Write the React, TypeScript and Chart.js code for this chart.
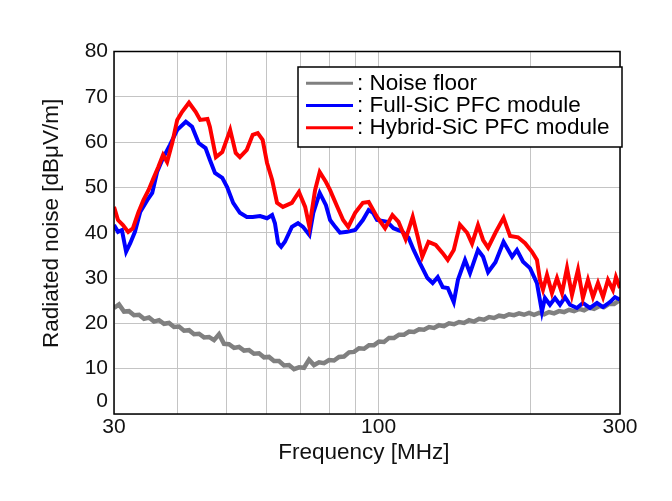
import { useEffect, useRef } from 'react';
import { Chart, registerables } from 'chart.js';

Chart.register(...registerables);

const FONT = "'Liberation Sans', Arial, sans-serif";

// frequency axis: grid lines and the three labelled ticks
const xGridValues = [30, 40, 50, 60, 70, 80, 90, 100, 200, 300];
const xLabelValues = [30, 100, 300];

// Noise floor [MHz] / [dBuV/m]
const noiseFreq = [
  30.0, 30.69, 31.4, 32.12, 32.86, 33.62, 34.39, 35.18, 35.99, 36.82,
  37.67, 38.54, 39.42, 40.33, 41.26, 42.21, 43.18, 44.17, 45.19, 46.23,
  47.29, 48.38, 49.49, 50.63, 51.8, 52.99, 54.21, 55.46, 56.73, 58.04,
  59.37, 60.74, 62.14, 63.57, 65.03, 66.53, 68.06, 69.63, 71.23, 72.87,
  74.55, 76.26, 78.02, 79.81, 81.65, 83.53, 85.45, 87.42, 89.43, 91.49,
  93.6, 95.75, 97.95, 100.21, 102.51, 104.87, 107.29, 109.76, 112.28, 114.87,
  117.51, 120.22, 122.98, 125.81, 128.71, 131.67, 134.7, 137.8, 140.98, 144.22,
  147.54, 150.94, 154.41, 157.97, 161.6, 165.32, 169.13, 173.02, 177.0, 181.08,
  185.25, 189.51, 193.87, 198.34, 202.9, 207.57, 212.35, 217.24, 222.24, 227.36,
  232.59, 237.95, 243.42, 249.03, 254.76, 260.62, 266.63, 272.76, 279.04, 285.47,
  292.04, 298.76,
];
const noiseLevel = [
  23.4, 24.2, 22.6, 22.7, 21.8, 21.9, 21.0, 21.3, 20.4, 20.7,
  19.9, 20.1, 19.2, 19.3, 18.4, 18.5, 17.6, 17.7, 16.9, 17.0,
  16.3, 17.6, 15.5, 15.4, 14.6, 14.8, 14.0, 14.1, 13.3, 13.4,
  12.5, 12.6, 11.7, 11.7, 10.7, 10.8, 9.9, 10.3, 10.2, 12.0,
  10.8, 11.4, 11.2, 11.9, 11.8, 12.6, 12.7, 13.6, 13.7, 14.5,
  14.4, 15.2, 15.2, 16.0, 15.9, 16.8, 16.8, 17.5, 17.5, 18.2,
  18.1, 18.7, 18.6, 19.2, 19.0, 19.6, 19.4, 20.0, 19.8, 20.3,
  20.1, 20.7, 20.4, 21.0, 20.8, 21.4, 21.2, 21.7, 21.5, 22.0,
  21.8, 22.2, 21.9, 22.3, 21.9, 22.3, 22.0, 22.5, 22.2, 22.7,
  22.5, 23.0, 22.7, 23.2, 22.9, 23.5, 23.2, 23.8, 23.6, 24.3,
  24.3, 25.0,
];

// Full-SiC PFC module
const fullFreq = [
  30.0, 30.55, 31.1, 31.7, 32.3, 33.0, 33.8, 34.9, 35.7, 36.5,
  37.5, 38.7, 40.0, 41.6, 42.8, 44.1, 45.5, 46.4, 47.5, 49.1,
  50.2, 51.6, 53.2, 54.9, 56.4, 58.3, 60.2, 61.6, 62.4, 63.3,
  64.2, 65.3, 67.4, 69.3, 70.9, 73.0, 74.3, 76.5, 78.7, 80.2,
  82.1, 83.9, 86.7, 89.9, 93.1, 95.6, 97.5, 99.3, 104.0, 107.0,
  111.6, 114.6, 117.3, 120.7, 124.9, 127.9, 130.9, 133.9, 137.0, 140.8,
  143.5, 148.2, 151.6, 157.2, 160.9, 164.6, 170.2, 176.6, 183.6, 187.7,
  193.0, 199.2, 205.6, 210.3, 213.2, 218.1, 223.2, 228.3, 233.6, 238.9,
  246.6, 253.4, 261.7, 270.2, 277.7, 286.6, 293.2, 300.0,
];
const fullLevel = [
  41.7, 40.2, 40.6, 35.8, 37.7, 40.2, 44.6, 47.2, 48.8, 53.4,
  56.5, 59.4, 62.7, 64.5, 63.4, 59.8, 58.7, 56.1, 53.2, 52.1,
  50.1, 46.6, 44.4, 43.5, 43.5, 43.7, 43.2, 43.9, 42.1, 37.7,
  36.9, 38.0, 41.3, 42.1, 41.3, 39.5, 44.4, 48.8, 46.1, 42.8,
  41.3, 40.0, 40.2, 40.6, 42.8, 45.0, 44.4, 42.8, 42.4, 41.0,
  40.2, 38.9, 36.2, 33.3, 30.0, 28.9, 30.2, 28.0, 27.8, 24.7,
  29.6, 34.0, 31.1, 36.2, 34.7, 31.3, 33.5, 38.0, 34.7, 36.2,
  33.6, 32.2, 28.9, 22.6, 25.6, 24.1, 25.6, 24.1, 25.8, 24.1,
  23.4, 24.5, 23.4, 24.5, 23.6, 24.7, 25.8, 25.2,
];

// Hybrid-SiC PFC module
const hybridFreq = [
  30.0, 30.55, 31.25, 32.0, 32.7, 33.5, 34.3, 35.1, 35.9, 36.7,
  37.5, 38.2, 39.1, 40.0, 40.9, 42.2, 43.5, 44.4, 45.9, 46.4,
  47.7, 49.1, 50.9, 52.2, 53.2, 54.9, 56.4, 57.7, 59.0, 60.2,
  61.6, 63.0, 64.7, 67.4, 69.6, 71.6, 73.0, 74.9, 76.5, 78.7,
  80.2, 82.9, 85.1, 87.1, 89.9, 93.1, 95.6, 99.3, 103.0, 106.5,
  109.5, 113.1, 116.8, 119.5, 122.0, 125.5, 129.7, 133.9, 137.0, 140.8,
  144.8, 149.6, 153.0, 157.2, 160.9, 164.6, 170.2, 176.6, 181.9, 188.6,
  194.8, 201.0, 205.6, 208.4, 211.3, 215.2, 220.1, 225.2, 230.4, 235.7,
  241.1, 247.8, 253.4, 259.3, 265.3, 271.4, 277.7, 284.0, 290.5, 294.5,
  300.0,
];
const hybridLevel = [
  45.7, 42.8, 41.7, 40.2, 41.0, 44.4, 47.2, 49.4, 52.0, 54.5,
  57.2, 55.6, 59.8, 64.9, 66.7, 68.7, 66.7, 64.9, 65.1, 63.4,
  56.7, 57.8, 62.7, 57.6, 56.7, 58.3, 61.6, 62.0, 60.5, 55.4,
  51.7, 46.6, 45.7, 46.6, 49.0, 45.7, 41.3, 49.4, 53.4, 51.2,
  49.4, 45.7, 42.8, 41.3, 44.4, 46.6, 46.8, 43.5, 41.0, 43.9,
  42.4, 38.6, 43.5, 39.1, 34.7, 38.0, 37.3, 35.5, 34.0, 36.2,
  41.8, 40.0, 37.6, 41.7, 38.4, 36.7, 40.0, 43.3, 39.3, 39.0,
  37.7, 35.8, 34.0, 29.6, 27.4, 30.7, 26.7, 30.0, 26.7, 32.2,
  26.3, 31.8, 25.6, 29.6, 25.8, 28.9, 25.8, 29.6, 27.4, 30.2,
  27.8,
];

const seriesLabels = ['Noise floor', 'Full-SiC PFC module', 'Hybrid-SiC PFC module'];
const seriesColors = ['#808080', '#0000ff', '#ff0000'];

const toPoints = (xs: number[], ys: number[]) => xs.map((x, i) => ({ x, y: ys[i] }));

// boxed legend inside the plot + the black frame around the plot
const frameAndLegend = {
  id: 'frameAndLegend',
  afterDatasetsDraw(chart: any) {
    const { ctx, chartArea } = chart;
    const { left, top, right, bottom } = chartArea;
    ctx.save();

    ctx.strokeStyle = '#000';
    ctx.lineWidth = 1.5;
    ctx.strokeRect(left, top, right - left, bottom - top);

    const bx = right - 322;
    const by = top + 15.5;
    ctx.fillStyle = '#fff';
    ctx.fillRect(bx, by, 324, 80);
    ctx.strokeRect(bx, by, 324, 80);

    ctx.font = `22.5px ${FONT}`;
    ctx.textBaseline = 'middle';
    ctx.textAlign = 'left';
    seriesLabels.forEach((label, i) => {
      const y = by + 16.3 + i * 22.2;
      ctx.strokeStyle = seriesColors[i];
      ctx.lineWidth = 3;
      ctx.beginPath();
      ctx.moveTo(bx + 8, y);
      ctx.lineTo(bx + 55, y);
      ctx.stroke();
      ctx.fillStyle = '#000';
      ctx.fillText(': ' + label, bx + 59, y);
    });
    ctx.restore();
  },
};

function NoiseChart() {
  const canvasRef = useRef<HTMLCanvasElement | null>(null);

  useEffect(() => {
    const chart = new Chart(canvasRef.current as HTMLCanvasElement, {
      type: 'line',
      data: {
        datasets: [
          {
            label: seriesLabels[0],
            data: toPoints(noiseFreq, noiseLevel),
            borderColor: seriesColors[0],
            borderWidth: 4.5,
            order: 3,
          },
          {
            label: seriesLabels[1],
            data: toPoints(fullFreq, fullLevel),
            borderColor: seriesColors[1],
            borderWidth: 4,
            order: 2,
          },
          {
            label: seriesLabels[2],
            data: toPoints(hybridFreq, hybridLevel),
            borderColor: seriesColors[2],
            borderWidth: 4,
            order: 1,
          },
        ],
      },
      options: {
        animation: false,
        responsive: true,
        maintainAspectRatio: false,
        elements: { point: { radius: 0 }, line: { tension: 0 } },
        layout: { padding: { left: 0, right: 52, top: 51.5, bottom: 0 } },
        plugins: {
          legend: { display: false },
          tooltip: { enabled: false },
        },
        scales: {
          x: {
            type: 'logarithmic',
            min: 30,
            max: 300,
            border: { display: false },
            grid: { color: '#c4c4c4', lineWidth: 1, drawTicks: false },
            afterBuildTicks: (scale: any) => {
              scale.ticks = xGridValues.map((value) => ({ value }));
            },
            afterFit: (scale: any) => {
              scale.height = 87;
              scale.paddingLeft = 0;
              scale.paddingRight = 0;
            },
            ticks: {
              autoSkip: false,
              maxRotation: 0,
              minRotation: 0,
              padding: 1,
              color: '#111',
              font: { family: FONT, size: 21 },
              callback: (value: any) => (xLabelValues.includes(Number(value)) ? String(value) : ''),
            },
            title: {
              display: true,
              text: 'Frequency [MHz] ',
              color: '#111',
              font: { family: FONT, size: 22.5 },
              padding: { top: 0, bottom: 34.5 },
            },
          },
          y: {
            min: 0,
            max: 80,
            border: { display: false },
            grid: { color: '#c4c4c4', lineWidth: 1, drawTicks: false },
            afterFit: (scale: any) => {
              scale.width = 114;
              scale.paddingTop = 0;
              scale.paddingBottom = 0;
            },
            ticks: {
              stepSize: 10,
              autoSkip: false,
              padding: 6,
              color: '#111',
              font: { family: FONT, size: 21 },
              callback: (value: any) => (Number(value) === 0 ? ['0', ''] : String(value)),
            },
            title: {
              display: true,
              text: '   Radiated noise [dBμV/m]',
              color: '#111',
              font: { family: FONT, size: 22.5 },
              padding: { top: 38.5, bottom: 0 },
            },
          },
        },
      },
      plugins: [frameAndLegend],
    });

    return () => chart.destroy();
  }, []);

  return (
    <div style={{ position: 'absolute', left: 0, top: 0, width: 672, height: 501 }}>
      <canvas ref={canvasRef}></canvas>
    </div>
  );
}

export default function App() {
  return <NoiseChart />;
}
